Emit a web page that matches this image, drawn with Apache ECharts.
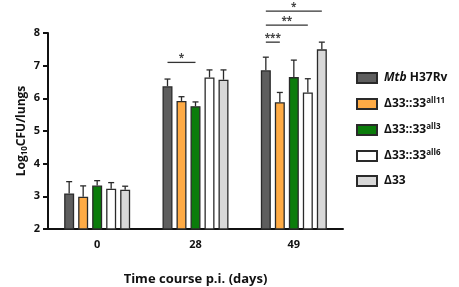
<!DOCTYPE html>
<html>
<head>
<meta charset="utf-8">
<script src="https://cdn.jsdelivr.net/npm/echarts@6/dist/echarts.min.js"></script>
<style>
  html, body { margin: 0; padding: 0; background: #fff; }
  #chart { width: 459px; height: 287px; }
</style>
</head>
<body>
<div id="chart"></div>
<script>
// 数据
var categories = ["0", "28", "49"];
var seriesNames = ["Mtb H37Rv", "Δ33::33all11", "Δ33::33all3", "Δ33::33all6", "Δ33"];
var colors = ["#5e5e5e", "#ffab45", "#0b7c0b", "#ffffff", "#d8d8d8"];

var mtbMean = [3.09, 6.37, 6.86];
var mtbUpper = [3.45, 6.59, 7.26];
var all11Mean = [2.99, 5.92, 5.88];
var all11Upper = [3.32, 6.05, 6.18];
var all3Mean = [3.33, 5.76, 6.65];
var all3Upper = [3.48, 5.89, 7.17];
var all6Mean = [3.23, 6.64, 6.18];
var all6Upper = [3.42, 6.87, 6.6];
var d33Mean = [3.2, 6.57, 7.5];
var d33Upper = [3.31, 6.87, 7.72];

var yTicks = [2, 3, 4, 5, 6, 7, 8];

// 显著性标记: [category, fromBar, toBar, y]
var sigCat = [1, 2, 2, 2];
var sigFrom = [0, 0, 0, 0];
var sigTo = [2, 1, 3, 4];
var sigY = [7.1, 7.72, 8.24, 8.67];
var sigStars = ["*", "***", "**", "*"];

var means = [mtbMean, all11Mean, all3Mean, all6Mean, d33Mean];
var uppers = [mtbUpper, all11Upper, all3Upper, all6Upper, d33Upper];

var BAR_W = 10, BAR_STEP = 14;
function barOffset(i) { return (i - 2) * BAR_STEP; }

var legendFmt = {
  "Mtb H37Rv": "{it|Mtb} {b|H37Rv}",
  "Δ33::33all11": "{b|Δ33::33}{sup|all11}",
  "Δ33::33all3": "{b|Δ33::33}{sup|all3}",
  "Δ33::33all6": "{b|Δ33::33}{sup|all6}",
  "Δ33": "{b|Δ33}"
};

var FONT = "'Open Sans', 'DejaVu Sans', sans-serif";

var series = [];
seriesNames.forEach(function (name, i) {
  series.push({
    name: name,
    type: "bar",
    barWidth: BAR_W,
    barGap: "40%",
    data: means[i],
    itemStyle: { color: colors[i], borderColor: "#2a2a2a", borderWidth: 1.3 },
    z: 2
  });
});

// 误差线
seriesNames.forEach(function (name, i) {
  series.push({
    type: "custom",
    silent: true,
    z: 1,
    clip: false,
    data: categories.map(function (c, k) { return [k, means[i][k], uppers[i][k]]; }),
    encode: { x: 0, y: [1, 2] },
    renderItem: function (params, api) {
      var base = api.coord([api.value(0), api.value(1)]);
      var top = api.coord([api.value(0), api.value(2)]);
      var x = base[0] + barOffset(i);
      return {
        type: "group",
        children: [
          { type: "line", shape: { x1: x, y1: base[1], x2: x, y2: top[1] },
            style: { stroke: "#2a2a2a", lineWidth: 1.3 } },
          { type: "line", shape: { x1: x - 3, y1: top[1], x2: x + 3, y2: top[1] },
            style: { stroke: "#2a2a2a", lineWidth: 1.3 } }
        ]
      };
    }
  });
});

// 显著性括线
series.push({
  type: "custom",
  silent: true,
  clip: false,
  z: 3,
  data: sigCat.map(function (c, k) { return [c, sigFrom[k], sigTo[k], sigY[k], k]; }),
  encode: { x: 0, y: 3 },
  renderItem: function (params, api) {
    var p = api.coord([api.value(0), api.value(3)]);
    var x1 = p[0] + barOffset(api.value(1));
    var x2 = p[0] + barOffset(api.value(2));
    return {
      type: "group",
      children: [
        { type: "line", shape: { x1: x1, y1: p[1], x2: x2, y2: p[1] },
          style: { stroke: "#333", lineWidth: 1.3 } },
        { type: "text", x: (x1 + x2) / 2, y: p[1] + 1,
          style: { text: sigStars[api.value(4)], fill: "#444", font: "bold 10px " + FONT,
                   align: "center", verticalAlign: "bottom" } }
      ]
    };
  }
});

var chart = echarts.init(document.getElementById("chart"));
chart.setOption({
  animation: false,
  backgroundColor: "#fff",
  grid: { left: 48, right: 116, top: 33, bottom: 58, outerBoundsMode: "none" },
  legend: {
    orient: "vertical",
    left: 356,
    top: 72,
    padding: 0,
    icon: "rect",
    itemWidth: 20,
    itemHeight: 10,
    itemGap: 13,
    data: seriesNames,
    formatter: function (name) { return legendFmt[name]; },
    textStyle: {
      fontFamily: FONT,
      padding: [0, 0, 0, 2],
      rich: {
        b: { fontSize: 12, fontWeight: "bold", color: "#111", fontFamily: FONT },
        it: { fontSize: 12, fontWeight: "bold", fontStyle: "italic", color: "#111", fontFamily: FONT },
        sup: { fontSize: 8, fontWeight: "bold", color: "#111", fontFamily: FONT, verticalAlign: "top", padding: [0, 0, 6, 0] }
      }
    }
  },
  xAxis: {
    type: "category",
    data: categories,
    name: "Time course p.i. (days)",
    nameLocation: "middle",
    nameGap: 44,
    nameMoveOverlap: false,
    nameTextStyle: { fontSize: 13, fontWeight: "bold", color: "#111", fontFamily: FONT },
    axisLine: { lineStyle: { color: "#111", width: 2 } },
    axisTick: { alignWithLabel: true, length: 5, lineStyle: { color: "#111", width: 2 } },
    axisLabel: { fontSize: 11, fontWeight: "bold", color: "#111", fontFamily: FONT, margin: 10 }
  },
  yAxis: {
    type: "value",
    min: yTicks[0],
    max: yTicks[yTicks.length - 1],
    interval: 1,
    name: "Log{sub|10}CFU/lungs",
    nameLocation: "middle",
    nameGap: 19,
    nameMoveOverlap: false,
    nameTextStyle: {
      fontSize: 12, fontWeight: "bold", color: "#111", fontFamily: FONT,
      rich: {
        sub: { fontSize: 8, fontWeight: "bold", color: "#111", fontFamily: FONT, verticalAlign: "bottom", padding: [6, 0, 0, 0] }
      }
    },
    axisLine: { show: true, lineStyle: { color: "#111", width: 2 } },
    axisTick: { show: true, length: 5, lineStyle: { color: "#111", width: 2 } },
    axisLabel: { fontSize: 11, fontWeight: "bold", color: "#111", fontFamily: FONT, margin: 8 },
    splitLine: { show: false }
  },
  series: series
});
</script>
</body>
</html>
